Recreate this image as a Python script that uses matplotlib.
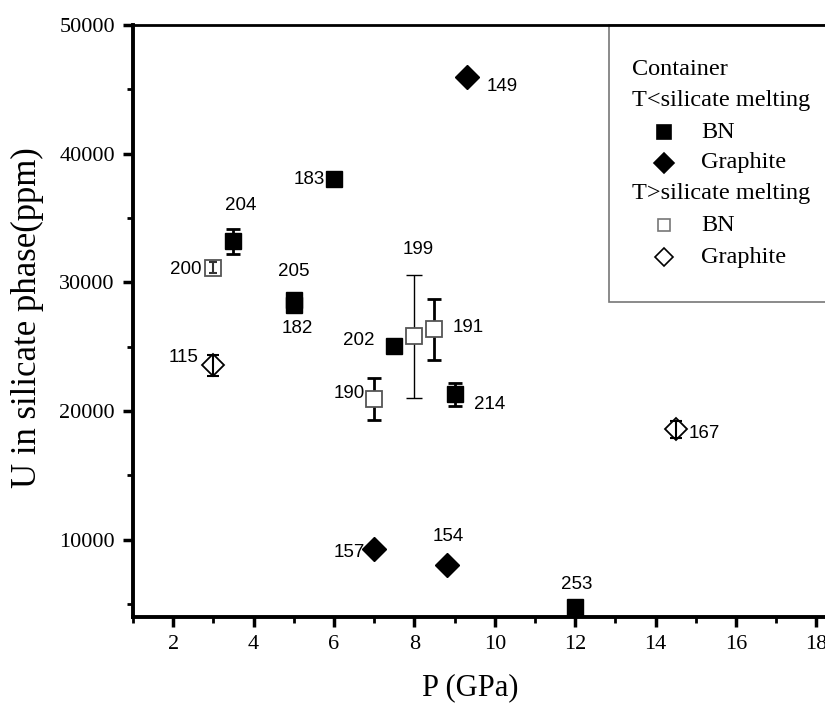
import numpy as np
import matplotlib
matplotlib.use('Agg')
from matplotlib import pyplot as plt
from matplotlib.patches import Rectangle

# T < silicate melting, BN container (filled squares)
bnLowP = [6, 3.5, 5, 5, 7.5, 9, 12]
bnLowU = [38000, 33200, 28600, 28250, 25100, 21300, 4800]
bnLowErr = [0, 970, 0, 0, 0, 870, 0]
bnLowLabels = ['183', '204', '205', '182', '202', '214', '253']

# T < silicate melting, graphite container (filled diamonds)
grLowP = [9.3, 7, 8.8]
grLowU = [46000, 9250, 8050]
grLowLabels = ['149', '157', '154']

# T > silicate melting, BN container (open squares)
bnHighP = [3, 8, 8.5, 7]
bnHighU = [31150, 25800, 26350, 20950]
bnHighErr = [400, 4770, 2360, 1620]
bnHighLabels = ['200', '199', '191', '190']

# T > silicate melting, graphite container (open diamonds)
grHighP = [3, 14.5]
grHighU = [23550, 18600]
grHighErr = [830, 650]
grHighLabels = ['115', '167']

# label offsets in pixels (dx, dy, ha)
labelOffsets = {
    '149': (20, -10, 'left'), '183': (-9, 0, 'right'), '204': (7, 36, 'center'),
    '200': (-12, -2, 'right'), '205': (0, 29, 'center'), '182': (4, -24, 'center'),
    '115': (-15, 8, 'right'), '202': (-20, 5, 'right'), '199': (4, 87, 'center'),
    '191': (18, 2, 'left'), '190': (-9, 5, 'right'), '214': (19, -10, 'left'),
    '167': (13, -4, 'left'), '157': (-9, -3, 'right'), '154': (2, 28, 'center'),
    '253': (2, 22, 'center'),
}

serif = 'Liberation Serif'
sans = 'Liberation Sans'

fig = plt.figure(figsize=(8.25, 7.06), dpi=100)
ax = fig.add_axes([0.1612, 0.126, 0.8527, 0.8385])

openEdge = '#555555'

# filled BN with error bars
ax.errorbar(bnLowP, bnLowU, yerr=bnLowErr, fmt='none', ecolor='black',
            elinewidth=2, capsize=5, capthick=2, zorder=2)
ax.plot(bnLowP, bnLowU, 's', color='black', markersize=12, zorder=3)

ax.plot(grLowP, grLowU, 'D', color='black', markersize=12.5, zorder=3)

# open BN, sample 199 has a thin error bar
thick = [i for i in range(len(bnHighP)) if bnHighLabels[i] != '199']
thin = [i for i in range(len(bnHighP)) if bnHighLabels[i] == '199']
ax.errorbar([bnHighP[i] for i in thick], [bnHighU[i] for i in thick],
            yerr=[bnHighErr[i] for i in thick], fmt='none', ecolor='black',
            elinewidth=2, capsize=5, capthick=2, zorder=2)
ax.errorbar([bnHighP[i] for i in thin], [bnHighU[i] for i in thin],
            yerr=[bnHighErr[i] for i in thin], fmt='none', ecolor='black',
            elinewidth=1, capsize=6, capthick=1, zorder=2)
ax.plot(bnHighP, bnHighU, 's', markerfacecolor='white', markeredgecolor=openEdge,
        markeredgewidth=1.3, markersize=11, zorder=3)
ax.errorbar(bnHighP[:1], bnHighU[:1], yerr=bnHighErr[:1], fmt='none', ecolor='#333333',
            elinewidth=1.5, capsize=3, capthick=1.5, zorder=4)

ax.errorbar(grHighP, grHighU, yerr=grHighErr, fmt='none', ecolor='black',
            elinewidth=1.5, capsize=4, capthick=1.5, zorder=4)
ax.plot(grHighP, grHighU, 'D', markerfacecolor='white', markeredgecolor='black',
        markeredgewidth=1.3, markersize=11, zorder=3)

for xs, ys, labs in [(bnLowP, bnLowU, bnLowLabels), (grLowP, grLowU, grLowLabels),
                     (bnHighP, bnHighU, bnHighLabels), (grHighP, grHighU, grHighLabels)]:
    for x, y, lab in zip(xs, ys, labs):
        dx, dy, ha = labelOffsets[lab]
        ax.annotate(lab, (x, y), xytext=(dx, dy), textcoords='offset pixels',
                    ha=ha, va='center', fontsize=13.5, family=sans, zorder=5)

ax.set_xlim(1, 18.5)
ax.set_ylim(4000, 50000)
ax.set_xticks(np.arange(2, 19, 2))
ax.set_xticks(np.arange(1, 19, 1), minor=True)
ax.set_yticks(np.arange(10000, 50001, 10000))
ax.set_yticks(np.arange(5000, 50000, 10000), minor=True)

for lab in ax.get_xticklabels() + ax.get_yticklabels():
    lab.set_family(serif)
    lab.set_fontsize(16)

ax.tick_params(which='major', direction='out', length=7, width=2.5, pad=6)
ax.tick_params(which='minor', direction='out', length=4, width=2)
ax.spines['left'].set_linewidth(2.8)
ax.spines['bottom'].set_linewidth(2.8)
ax.spines['top'].set_linewidth(2)
ax.spines['right'].set_linewidth(2)

ax.set_xlabel('P (GPa)', family=serif, fontsize=22)
ax.xaxis.set_label_coords(0.479, -0.095)
ax.set_ylabel('U in silicate phase(ppm)', family=serif, fontsize=25)
ax.yaxis.set_label_coords(-0.126, 0.505)

# legend drawn by hand in axes fraction
ax.add_patch(Rectangle((0.6766, 0.532), 0.4, 0.468, transform=ax.transAxes,
                       facecolor='white', edgecolor='#777777', linewidth=1.2, zorder=6,
                       clip_on=False))
legRows = [0.925, 0.873, 0.819, 0.767, 0.716, 0.662, 0.608]
ax.text(0.709, legRows[0], 'Container', transform=ax.transAxes, family=serif,
        fontsize=17.5, va='center', zorder=7)
ax.text(0.709, legRows[1], 'T<silicate melting', transform=ax.transAxes, family=serif,
        fontsize=17.5, va='center', zorder=7)
ax.text(0.709, legRows[4], 'T>silicate melting', transform=ax.transAxes, family=serif,
        fontsize=17.5, va='center', zorder=7)
legItems = [(legRows[2], 's', 'black', 'black', 'BN', 10),
            (legRows[3], 'D', 'black', 'black', 'Graphite', 10),
            (legRows[5], 's', 'white', '#777777', 'BN', 9),
            (legRows[6], 'D', 'white', 'black', 'Graphite', 9)]
for yy, mk, fc, ec, name, sz in legItems:
    ax.plot([0.755], [yy], mk, transform=ax.transAxes, markerfacecolor=fc,
            markeredgecolor=ec, markeredgewidth=1.2, markersize=sz, zorder=7, clip_on=False)
    ax.text(0.808, yy, name, transform=ax.transAxes, family=serif, fontsize=17.5,
            va='center', zorder=7)
# redraw the top spine over the legend box
ax.spines['top'].set_zorder(8)

fig.savefig('out.png', dpi=100)
